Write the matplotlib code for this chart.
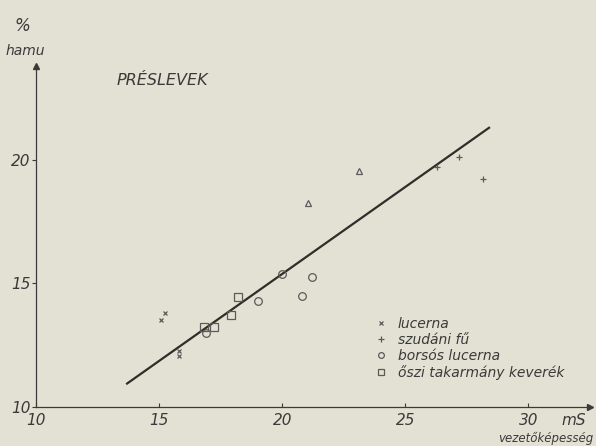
import matplotlib.pyplot as plt

# values
lucerna_x = [15.07, 15.22, 15.81, 15.81]
lucerna_y = [13.51, 13.79, 12.25, 12.05]
szudani_x = [26.29, 27.18, 28.17]
szudani_y = [19.73, 20.13, 19.22]
borsos_x = [16.91, 19.01, 20.01, 20.80, 21.22]
borsos_y = [13.01, 14.30, 15.40, 14.51, 15.28]
oszi_x = [16.84, 17.24, 17.91, 18.21]
oszi_y = [13.23, 13.23, 13.71, 14.47]
triangle_x = [21.03, 23.13]
triangle_y = [18.27, 19.55]
fit_x = [13.7, 28.4]
fit_y = [10.95, 21.3]

x_ticks = [10, 15, 20, 25, 30]
y_ticks = [10, 15, 20]

bg = '#e3e1d3'
ink = '#3a3a3a'
mark = '#5a5a5a'

plt.rcParams['font.family'] = ['DejaVu Sans']
plt.rcParams['font.style'] = 'italic'

fig = plt.figure(figsize=(5.96, 4.46), dpi=100, facecolor=bg)
ax = fig.add_axes([0.0604, 0.0874, 0.9295, 0.7646])
ax.set_facecolor(bg)

ax.plot(fit_x, fit_y, color='#2e2e2a', lw=1.6, zorder=2)

ax.plot(lucerna_x, lucerna_y, 'x', color=mark, ms=3.5, mew=0.9, label='lucerna')
ax.plot(szudani_x, szudani_y, '+', color=mark, ms=5, mew=0.9, label='szudáni fű')
ax.plot(borsos_x, borsos_y, 'o', mfc='none', mec=mark, ms=5.5, mew=0.9, label='borsós lucerna')
ax.plot(oszi_x, oszi_y, 's', mfc='none', mec=mark, ms=5.5, mew=0.9, label='őszi takarmány keverék')
ax.plot(triangle_x, triangle_y, '^', mfc='none', mec=mark, ms=4.5, mew=0.9)

ax.set_xlim(10, 32.5)
ax.set_ylim(10, 23.8)
ax.set_xticks(x_ticks)
ax.set_yticks(y_ticks)
ax.set_xticklabels(['10', '15', '20', '25', '30'])
ax.set_yticklabels(['10', '15', '20'])
ax.tick_params(axis='both', colors=ink, labelsize=11, length=3, width=0.8, pad=4)
ax.tick_params(axis='x', direction='in')
ax.tick_params(axis='y', direction='out', pad=1)
for lab in ax.get_xticklabels() + ax.get_yticklabels():
    lab.set_color(ink)

for side in ['top', 'right']:
    ax.spines[side].set_visible(False)
for side in ['left', 'bottom']:
    ax.spines[side].set_color(ink)
    ax.spines[side].set_linewidth(0.9)

# arrow heads at axis ends
ax.plot(1, 0, '>', color=ink, ms=4, transform=ax.transAxes, clip_on=False)
ax.plot(0, 1, '^', color=ink, ms=4, transform=ax.transAxes, clip_on=False)

fig.text(0.038, 0.93, '%', fontsize=12, color=ink, ha='center')
fig.text(0.043, 0.877, 'hamu', fontsize=10, color=ink, ha='center')
fig.text(0.195, 0.81, 'PRÉSLEVEK', fontsize=11.5, color=ink)
fig.text(0.962, 0.046, 'mS', fontsize=11, color=ink, ha='center')
fig.text(0.915, 0.01, 'vezetőképesség', fontsize=8.5, color=ink, ha='center')

ax.legend(loc='upper left', bbox_to_anchor=(0.6, 0.285), frameon=False,
          fontsize=10, handlelength=0.8, handletextpad=0.8, labelspacing=0.15,
          labelcolor=ink, borderpad=0, markerscale=0.75)

plt.savefig('out.png', dpi=100, facecolor=bg)
